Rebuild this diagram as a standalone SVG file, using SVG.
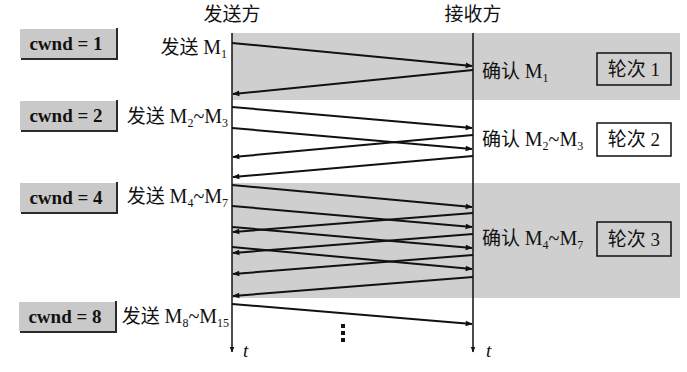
<svg xmlns="http://www.w3.org/2000/svg" width="687" height="372" viewBox="0 0 687 372">
<style>
.band{fill:#cfcfcf}
.cw rect{fill:#c9c9c9}
.cw path{fill:none;stroke:#2a2a2a;stroke-width:2}
.cwt{font-family:"Liberation Serif",serif;font-size:19px;font-weight:bold;fill:#111;text-anchor:middle}
.t{font-family:"Liberation Serif","Noto Sans CJK SC",serif;font-size:19px;fill:#111}
.hd{font-family:"Noto Sans CJK SC",sans-serif;font-size:19px;fill:#111;text-anchor:middle}
.sub{font-size:12px}
.m{font-size:20px}
.rb{stroke:#111;stroke-width:1.5}
.life{stroke:#111;stroke-width:1.5;fill:none}
.msg line{stroke:#111;stroke-width:2}
</style>
<defs>
<marker id="ah" viewBox="0 0 10 10" refX="9" refY="5" markerWidth="9" markerHeight="7" markerUnits="userSpaceOnUse" orient="auto">
<path d="M0,1 L10,5 L0,9 z" fill="#111"/>
</marker>
<marker id="ah2" viewBox="0 0 10 10" refX="9" refY="5" markerWidth="6" markerHeight="9" markerUnits="userSpaceOnUse" orient="auto">
<path d="M0,1 L10,5 L0,9 z" fill="#111"/>
</marker>
</defs>
<rect width="687" height="372" fill="#fff"/>
<g id="bands">
<rect class="band" x="232" y="33" width="448" height="67"/>
<rect class="band" x="232" y="183" width="448" height="115"/>
</g>
<g id="headers">
<text class="hd" x="232" y="21">发送方</text>
<text class="hd" x="473" y="21">接收方</text>
</g>
<g id="lifelines">
<line class="life" x1="232" y1="33" x2="232" y2="352" marker-end="url(#ah2)"/>
<line class="life" x1="473" y1="33" x2="473" y2="352" marker-end="url(#ah2)"/>
<text class="t" x="243" y="357" font-style="italic" font-size="16">t</text>
<text class="t" x="486" y="357" font-style="italic" font-size="16">t</text>
</g>
<g id="cwnd1" class="cw"><rect x="20" y="29" width="96" height="29"/><path d="M117,28 V60 M21,59 H117"/><text class="cwt" x="66" y="50">cwnd = 1</text></g>
<g id="cwnd2" class="cw"><rect x="20" y="101" width="96" height="29"/><path d="M117,100 V132 M21,131 H117"/><text class="cwt" x="66" y="122">cwnd = 2</text></g>
<g id="cwnd4" class="cw"><rect x="20" y="183" width="96" height="29"/><path d="M117,182 V214 M21,213 H117"/><text class="cwt" x="66" y="204">cwnd = 4</text></g>
<g id="cwnd8" class="cw"><rect x="19" y="302" width="96" height="29"/><path d="M116,301 V333 M20,332 H116"/><text class="cwt" x="65" y="323">cwnd = 8</text></g>
<g id="send-labels" class="t" text-anchor="end">
<text x="227" y="54">发送 <tspan class="m">M</tspan><tspan class="sub" dy="4">1</tspan></text>
<text x="228" y="123">发送 <tspan class="m">M</tspan><tspan class="sub" dy="4">2</tspan><tspan class="m" dy="-4">~M</tspan><tspan class="sub" dy="4">3</tspan></text>
<text x="228" y="203">发送 <tspan class="m">M</tspan><tspan class="sub" dy="4">4</tspan><tspan class="m" dy="-4">~M</tspan><tspan class="sub" dy="4">7</tspan></text>
<text x="229" y="323">发送 <tspan class="m">M</tspan><tspan class="sub" dy="4">8</tspan><tspan class="m" dy="-4">~M</tspan><tspan class="sub" dy="4">15</tspan></text>
</g>
<g id="ack-labels" class="t">
<text x="482" y="78">确认 <tspan class="m">M</tspan><tspan class="sub" dy="4">1</tspan></text>
<text x="482" y="146">确认 <tspan class="m">M</tspan><tspan class="sub" dy="4">2</tspan><tspan class="m" dy="-4">~M</tspan><tspan class="sub" dy="4">3</tspan></text>
<text x="482" y="245">确认 <tspan class="m">M</tspan><tspan class="sub" dy="4">4</tspan><tspan class="m" dy="-4">~M</tspan><tspan class="sub" dy="4">7</tspan></text>
</g>
<g id="round1"><rect class="rb" x="597" y="53" width="74" height="32" fill="#cfcfcf"/><text class="t" x="634" y="76" text-anchor="middle">轮次 1</text></g>
<g id="round2"><rect class="rb" x="597" y="123" width="74" height="33" fill="#fff"/><text class="t" x="634" y="146" text-anchor="middle">轮次 2</text></g>
<g id="round3"><rect class="rb" x="597" y="222" width="74" height="34" fill="#cfcfcf"/><text class="t" x="634" y="246" text-anchor="middle">轮次 3</text></g>
<g id="connectors" class="msg">
<line x1="232" y1="43" x2="472" y2="66" marker-end="url(#ah)"/>
<line x1="473" y1="70" x2="233" y2="94" marker-end="url(#ah)"/>
<line x1="232" y1="107" x2="472" y2="128" marker-end="url(#ah)"/>
<line x1="232" y1="128" x2="472" y2="149" marker-end="url(#ah)"/>
<line x1="473" y1="135" x2="233" y2="157" marker-end="url(#ah)"/>
<line x1="473" y1="156" x2="233" y2="177" marker-end="url(#ah)"/>
<line x1="232" y1="185" x2="472" y2="207" marker-end="url(#ah)"/>
<line x1="232" y1="206" x2="472" y2="227" marker-end="url(#ah)"/>
<line x1="232" y1="227" x2="472" y2="248" marker-end="url(#ah)"/>
<line x1="232" y1="247" x2="472" y2="269" marker-end="url(#ah)"/>
<line x1="473" y1="213" x2="233" y2="232" marker-end="url(#ah)"/>
<line x1="473" y1="234" x2="233" y2="253" marker-end="url(#ah)"/>
<line x1="473" y1="255" x2="233" y2="274" marker-end="url(#ah)"/>
<line x1="473" y1="277" x2="233" y2="296" marker-end="url(#ah)"/>
<line x1="232" y1="304" x2="472" y2="324" marker-end="url(#ah)"/>
</g>
<g id="ellipsis" fill="#111">
<rect x="341" y="324" width="4" height="4"/>
<rect x="341" y="331" width="4" height="4"/>
<rect x="341" y="338" width="4" height="4"/>
</g>
</svg>
